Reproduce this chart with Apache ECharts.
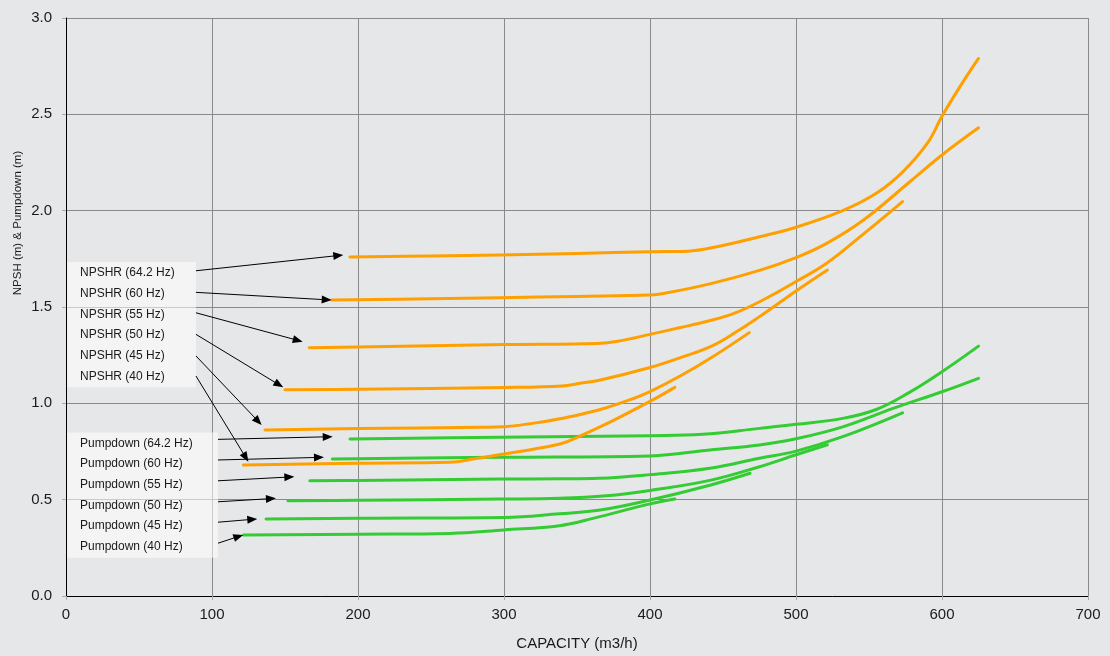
<!DOCTYPE html>
<html>
<head>
<meta charset="utf-8">
<script src="https://cdn.jsdelivr.net/npm/echarts@6/dist/echarts.min.js"></script>
<style>
html,body{margin:0;padding:0;background:#e6e7e9;}
#c{width:1110px;height:656px;}
</style>
</head>
<body>
<div id="c"></div>
<script>
// ---- axis ----
const xMin = 0, xMax = 700, xStep = 100;
const yMin = 0, yMax = 3, yStep = 0.5;

// ---- NPSHR curves (capacity m3/h, NPSH m) ----
const npshr642X = [194.5, 250, 297, 350, 400, 426, 444, 475, 500, 532, 555, 573, 590, 600, 612, 625];
const npshr642Y = [1.76, 1.765, 1.77, 1.778, 1.787, 1.79, 1.81, 1.865, 1.914, 2.0, 2.09, 2.2, 2.35, 2.49, 2.64, 2.79];
const npshr60X = [182, 250, 297, 350, 400, 410, 441, 475, 500, 521, 546, 578, 600, 625];
const npshr60Y = [1.536, 1.543, 1.548, 1.555, 1.562, 1.571, 1.62, 1.69, 1.756, 1.83, 1.95, 2.15, 2.289, 2.43];
const npshr55X = [166.6, 200, 300, 364, 378, 400, 420, 440, 458, 477, 500, 521, 544, 573];
const npshr55Y = [1.289, 1.292, 1.305, 1.311, 1.322, 1.358, 1.392, 1.427, 1.468, 1.535, 1.632, 1.727, 1.865, 2.047];
const npshr50X = [150, 200, 300, 340, 352, 366, 400, 420, 443, 460, 475, 492, 500, 521.5];
const npshr50Y = [1.07, 1.073, 1.082, 1.09, 1.104, 1.121, 1.186, 1.235, 1.30, 1.375, 1.45, 1.54, 1.583, 1.692];
const npshr45X = [136.3, 200, 284, 300, 329, 345, 366, 385, 400, 420, 443, 468];
const npshr45Y = [0.862, 0.869, 0.876, 0.879, 0.907, 0.93, 0.968, 1.015, 1.061, 1.139, 1.242, 1.367];
const npshr40X = [121.5, 200, 263, 280, 300, 320, 340, 352, 375, 400, 417];
const npshr40Y = [0.68, 0.689, 0.694, 0.712, 0.737, 0.762, 0.793, 0.83, 0.912, 1.01, 1.083];

// ---- Pumpdown curves ----
const pump642X = [194.5, 297, 400, 436, 475, 500, 532, 555, 578, 600, 625];
const pump642Y = [0.815, 0.824, 0.832, 0.839, 0.87, 0.891, 0.922, 0.968, 1.058, 1.164, 1.297];
const pump60X = [182.4, 297, 400, 441, 475, 500, 532, 567, 600, 625];
const pump60Y = [0.711, 0.72, 0.727, 0.758, 0.784, 0.816, 0.878, 0.975, 1.06, 1.13];
const pump55X = [167, 200, 297, 338, 365, 400, 441, 475, 500, 532, 573];
const pump55Y = [0.598, 0.6, 0.607, 0.608, 0.611, 0.63, 0.663, 0.715, 0.752, 0.827, 0.951];
const pump50X = [152, 200, 297, 338, 370, 400, 441, 475, 500, 521.5];
const pump50Y = [0.495, 0.497, 0.503, 0.507, 0.52, 0.548, 0.6, 0.671, 0.733, 0.785];
const pump45X = [137, 200, 300, 338, 366, 400, 441, 468.5];
const pump45Y = [0.40, 0.404, 0.408, 0.427, 0.446, 0.498, 0.575, 0.637];
const pump40X = [121.5, 200, 263, 300, 338, 361, 400, 417];
const pump40Y = [0.317, 0.321, 0.325, 0.343, 0.365, 0.403, 0.478, 0.503];

// ---- annotation labels ----
const npshrLabels = ['NPSHR (64.2 Hz)', 'NPSHR (60 Hz)', 'NPSHR (55 Hz)', 'NPSHR (50 Hz)', 'NPSHR (45 Hz)', 'NPSHR (40 Hz)'];
const pumpLabels = ['Pumpdown (64.2 Hz)', 'Pumpdown (60 Hz)', 'Pumpdown (55 Hz)', 'Pumpdown (50 Hz)', 'Pumpdown (45 Hz)', 'Pumpdown (40 Hz)'];
// arrow start / tip, in data units
const npshrArrowFrom = [[89, 1.688], [89, 1.576], [89, 1.470], [89, 1.358], [89, 1.246], [89, 1.142]];
const npshrArrowTo = [[189.9, 1.770], [182.0, 1.536], [162.1, 1.320], [148.8, 1.083], [134.0, 0.888], [124.9, 0.697]];
const pumpArrowFrom = [[104.1, 0.813], [104.1, 0.706], [104.1, 0.598], [104.1, 0.489], [104.1, 0.383], [104.1, 0.274]];
const pumpArrowTo = [[182.7, 0.827], [176.7, 0.720], [156.4, 0.619], [143.8, 0.507], [131.0, 0.400], [121.4, 0.317]];

const ORANGE = '#FFA000';
const GREEN = '#33CC33';
const FONT = '"Liberation Sans", Arial, sans-serif';

function pts(xs, ys) { return xs.map((x, i) => [x, ys[i]]); }
function curve(name, xs, ys, color) {
  return {
    name: name, type: 'line', data: pts(xs, ys),
    showSymbol: false, symbol: 'none',
    smooth: 0.4,
    lineStyle: { color: color, width: 3, cap: 'round', join: 'round' },
    itemStyle: { color: color },
    silent: true, z: 3
  };
}

const chart = echarts.init(document.getElementById('c'), null, { renderer: 'canvas' });
const option = {
  backgroundColor: '#e6e7e9',
  animation: false,
  textStyle: { fontFamily: FONT },
  grid: { left: 66, right: 22, top: 18, bottom: 60, containLabel: false },
  xAxis: {
    type: 'value', min: xMin, max: xMax, interval: xStep,
    name: 'CAPACITY (m3/h)', nameLocation: 'middle', nameGap: 40,
    nameTextStyle: { fontSize: 15, color: '#1a1a1a', fontFamily: FONT },
    axisLine: { show: true, onZero: false, lineStyle: { color: '#000', width: 1 } },
    axisTick: { show: true, length: 4, lineStyle: { color: '#aaa' } },
    axisLabel: { fontSize: 15, color: '#1a1a1a', margin: 11, fontFamily: FONT },
    splitLine: { show: true, lineStyle: { color: '#8a8a8a', width: 1 } }
  },
  yAxis: {
    type: 'value', min: yMin, max: yMax, interval: yStep,
    axisLine: { show: true, onZero: false, lineStyle: { color: '#000', width: 1 } },
    axisTick: { show: true, length: 4, lineStyle: { color: '#aaa' } },
    axisLabel: { fontSize: 15, color: '#1a1a1a', margin: 14, fontFamily: FONT, formatter: v => v.toFixed(1) },
    splitLine: { show: true, lineStyle: { color: '#8a8a8a', width: 1 } }
  },
  series: [
    curve('Pumpdown (64.2 Hz)', pump642X, pump642Y, GREEN),
    curve('Pumpdown (60 Hz)', pump60X, pump60Y, GREEN),
    curve('Pumpdown (55 Hz)', pump55X, pump55Y, GREEN),
    curve('Pumpdown (50 Hz)', pump50X, pump50Y, GREEN),
    curve('Pumpdown (45 Hz)', pump45X, pump45Y, GREEN),
    curve('Pumpdown (40 Hz)', pump40X, pump40Y, GREEN),
    curve('NPSHR (64.2 Hz)', npshr642X, npshr642Y, ORANGE),
    curve('NPSHR (60 Hz)', npshr60X, npshr60Y, ORANGE),
    curve('NPSHR (55 Hz)', npshr55X, npshr55Y, ORANGE),
    curve('NPSHR (50 Hz)', npshr50X, npshr50Y, ORANGE),
    curve('NPSHR (45 Hz)', npshr45X, npshr45Y, ORANGE),
    curve('NPSHR (40 Hz)', npshr40X, npshr40Y, ORANGE)
  ]
};
chart.setOption(option);

// ---- annotations (boxes, labels, arrows) ----
const els = [];
function px(p) { return chart.convertToPixel({ gridIndex: 0 }, p); }

function labelBlock(labels, from, to, boxLeft, boxTop, boxW, rowH, textX) {
  els.push({
    type: 'rect', z: 50, silent: true,
    shape: { x: boxLeft, y: boxTop, width: boxW, height: rowH * labels.length + 1 },
    style: { fill: 'rgba(255,255,255,0.55)' }
  });
  labels.forEach((t, i) => {
    els.push({
      type: 'text', z: 51, silent: true,
      x: textX, y: boxTop + rowH * i + rowH / 2 + 0.5,
      style: { text: t, fill: '#1a1a1a', font: '12px ' + FONT, textVerticalAlign: 'middle', textAlign: 'left' }
    });
  });
  from.forEach((f, i) => {
    const a = px(f), b = px(to[i]);
    const dx = b[0] - a[0], dy = b[1] - a[1];
    const L = Math.sqrt(dx * dx + dy * dy);
    const ux = dx / L, uy = dy / L;
    const hl = 10, hw = 4;
    const bx = b[0] - ux * hl, by = b[1] - uy * hl;
    els.push({
      type: 'line', z: 52, silent: true,
      shape: { x1: a[0], y1: a[1], x2: bx + ux * 1, y2: by + uy * 1 },
      style: { stroke: '#000', lineWidth: 1 }
    });
    els.push({
      type: 'polygon', z: 52, silent: true,
      shape: { points: [[b[0], b[1]], [bx - uy * hw, by + ux * hw], [bx + uy * hw, by - ux * hw]] },
      style: { fill: '#000' }
    });
  });
}
labelBlock(npshrLabels, npshrArrowFrom, npshrArrowTo, 67, 262, 129, 20.7, 80);
labelBlock(pumpLabels, pumpArrowFrom, pumpArrowTo, 67, 432.5, 151, 20.7, 80);

// y-axis title
els.push({
  type: 'text', z: 51, silent: true,
  x: 17.5, y: 223, rotation: Math.PI / 2,
  style: { text: 'NPSH (m) & Pumpdown (m)', fill: '#1a1a1a', font: '11.5px ' + FONT, textAlign: 'center', textVerticalAlign: 'middle' }
});

chart.setOption({ graphic: { elements: els } });
</script>
</body>
</html>
